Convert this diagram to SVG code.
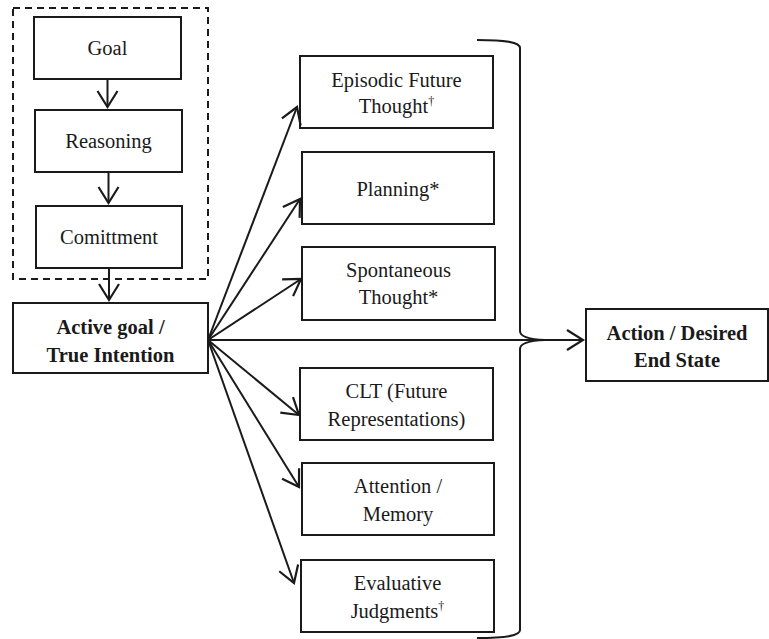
<svg xmlns="http://www.w3.org/2000/svg" width="769" height="639" viewBox="0 0 769 639">
<defs>
<marker id="ah" markerUnits="userSpaceOnUse" markerWidth="24" markerHeight="24" viewBox="-18 -12 20 24" refX="0" refY="0" orient="auto">
<path d="M-16,-10 L0,0 L-16,10" fill="none" stroke="#1a1a1a" stroke-width="2.2"/>
</marker>
</defs>
<style>
.box{fill:#fff;stroke:#1a1a1a;stroke-width:2}
text{font-family:"Liberation Serif","Times New Roman","DejaVu Serif",serif;font-size:20.5px;fill:#1a1a1a;text-anchor:middle}
.b{font-weight:bold}
.c{fill:none;stroke:#1a1a1a;stroke-width:2}
.sup{font-size:12px;fill:#1a1a1a}
</style>
<rect width="769" height="639" fill="#fff"/>
<rect x="13" y="8" width="195" height="271" fill="none" stroke="#1a1a1a" stroke-width="2" stroke-dasharray="7,5"/>
<g id="goal"><rect class="box" x="34" y="17" width="147" height="62"/><text font-family="Liberation Serif, serif" x="107.5" y="55">Goal</text></g>
<g id="reasoning"><rect class="box" x="35" y="110" width="147" height="62"/><text font-family="Liberation Serif, serif" x="108.5" y="148">Reasoning</text></g>
<g id="commitment"><rect class="box" x="36" y="206" width="146" height="62"/><text font-family="Liberation Serif, serif" x="109" y="244">Comittment</text></g>
<g id="active"><rect class="box" x="13" y="303" width="195" height="70"/><text class="b" font-family="Liberation Serif, serif" x="110.5" y="334">Active goal /</text><text class="b" font-family="Liberation Serif, serif" x="110.5" y="362">True Intention</text></g>
<g id="episodic"><rect class="box" x="300" y="56" width="193" height="72"/><text font-family="Liberation Serif, serif" x="396.5" y="87">Episodic Future</text><text font-family="Liberation Serif, serif" x="396.5" y="113">Thought<tspan class="sup" dy="-8">†</tspan></text></g>
<g id="planning"><rect class="box" x="302" y="152" width="192" height="72"/><text font-family="Liberation Serif, serif" x="398" y="196">Planning*</text></g>
<g id="spontaneous"><rect class="box" x="302" y="247" width="193" height="73"/><text font-family="Liberation Serif, serif" x="398.5" y="277">Spontaneous</text><text font-family="Liberation Serif, serif" x="398.5" y="304">Thought*</text></g>
<g id="clt"><rect class="box" x="300" y="368" width="193" height="72"/><text font-family="Liberation Serif, serif" x="396.5" y="398">CLT (Future</text><text font-family="Liberation Serif, serif" x="396.5" y="426">Representations)</text></g>
<g id="attention"><rect class="box" x="302" y="463" width="192" height="72"/><text font-family="Liberation Serif, serif" x="398" y="493">Attention /</text><text font-family="Liberation Serif, serif" x="398" y="521">Memory</text></g>
<g id="evaluative"><rect class="box" x="301" y="560" width="193" height="72"/><text font-family="Liberation Serif, serif" x="397.5" y="590">Evaluative</text><text font-family="Liberation Serif, serif" x="397.5" y="618">Judgments<tspan class="sup" dy="-8">†</tspan></text></g>
<g id="action"><rect class="box" x="586" y="309" width="182" height="72"/><text class="b" font-family="Liberation Serif, serif" x="677" y="340">Action / Desired</text><text class="b" font-family="Liberation Serif, serif" x="677" y="367">End State</text></g>
<g id="connectors">
<line class="c" x1="107.5" y1="79" x2="107.5" y2="107" marker-end="url(#ah)"/>
<line class="c" x1="108.5" y1="172" x2="108.5" y2="203" marker-end="url(#ah)"/>
<line class="c" x1="109" y1="268" x2="109" y2="300" marker-end="url(#ah)"/>
<line class="c" x1="208" y1="340" x2="297" y2="107" marker-end="url(#ah)"/>
<line class="c" x1="208" y1="340" x2="300" y2="199" marker-end="url(#ah)"/>
<line class="c" x1="208" y1="340" x2="301" y2="279" marker-end="url(#ah)"/>
<line class="c" x1="208" y1="340" x2="299" y2="415" marker-end="url(#ah)"/>
<line class="c" x1="208" y1="340" x2="299" y2="487" marker-end="url(#ah)"/>
<line class="c" x1="208" y1="340" x2="294" y2="583" marker-end="url(#ah)"/>
<line class="c" x1="208" y1="340" x2="583" y2="340" marker-end="url(#ah)"/>
<path class="c" d="M477,40 C505,40 520,42 520,48 L520,331 Q520,339 545,340"/>
<path class="c" d="M545,340 Q520,341 520,349 L520,630 C520,636 505,638 477,638"/>
</g>
</svg>
